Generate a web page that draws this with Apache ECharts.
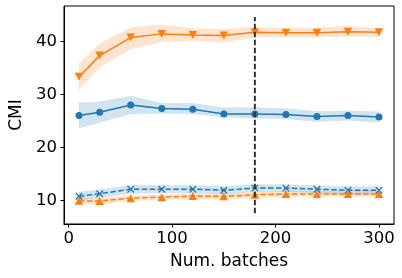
<!DOCTYPE html>
<html><head><meta charset="utf-8">
<script src="https://cdn.jsdelivr.net/npm/echarts@6/dist/echarts.min.js"></script>
<style>html,body{margin:0;padding:0;background:#fff}#c{width:402px;height:278px}</style>
</head><body><div id="c"></div>
<script>
const batches = [10, 30, 60, 90, 120, 150, 180, 210, 240, 270, 300];

const orangeSolidMean  = [33.3, 37.3, 40.7, 41.4, 41.2, 41.1, 41.7, 41.6, 41.6, 41.8, 41.7];
const orangeSolidLower = [30.8, 35.1, 38.5, 39.9, 40.1, 39.8, 40.75, 40.75, 40.75, 40.9, 40.9];
const orangeSolidUpper = [35.8, 39.6, 42.6, 43.1, 42.4, 42.3, 42.6, 42.5, 42.5, 42.9, 42.4];

const blueSolidMean  = [26.0, 26.6, 28.0, 27.3, 27.2, 26.3, 26.3, 26.2, 25.8, 26.0, 25.7];
const blueSolidLower = [23.6, 24.7, 26.3, 26.4, 26.3, 25.7, 25.5, 25.4, 24.8, 25.1, 24.7];
const blueSolidUpper = [28.4, 28.6, 29.7, 28.3, 28.3, 27.5, 27.5, 27.3, 26.8, 26.9, 26.7];

const blueDashMean  = [10.75, 11.25, 12.1, 12.1, 12.1, 11.9, 12.3, 12.3, 12.1, 11.9, 11.9];
const blueDashLower = [10.0, 10.5, 11.3, 11.4, 11.4, 11.2, 11.6, 11.6, 11.4, 11.2, 11.2];
const blueDashUpper = [11.6, 12.0, 12.9, 12.8, 12.8, 12.6, 13.0, 13.0, 12.8, 12.6, 12.6];

const orangeDashMean  = [9.9, 9.85, 10.4, 10.6, 10.8, 10.75, 11.05, 11.2, 11.2, 11.2, 11.2];
const orangeDashLower = [9.3, 9.25, 9.9, 10.1, 10.3, 10.25, 10.55, 10.7, 10.7, 10.7, 10.7];
const orangeDashUpper = [10.5, 10.45, 10.9, 11.1, 11.3, 11.25, 11.55, 11.7, 11.7, 11.7, 11.7];

const vlineX = 180;
const vlineRange = [7.55, 44.6];

const xTicks = [0, 100, 200, 300];
const yTicks = [10, 20, 30, 40];

const BLUE = '#1f77b4', ORANGE = '#ff7f0e';
const FONT = 'DejaVu Sans';

function band(lower, upper, color) {
  return {
    type: 'custom',
    silent: true,
    z: 1,
    data: [[batches[0], lower[0]]],
    renderItem: function (params, api) {
      const pts = [];
      for (let i = 0; i < batches.length; i++) pts.push(api.coord([batches[i], upper[i]]));
      for (let i = batches.length - 1; i >= 0; i--) pts.push(api.coord([batches[i], lower[i]]));
      return { type: 'polygon', shape: { points: pts }, style: { fill: color, opacity: 0.2, stroke: color, lineWidth: 1, strokeOpacity: 0.2 } };
    }
  };
}
function line(mean, color, symbol, size, dashed, extra) {
  return Object.assign({
    type: 'line',
    z: 3,
    data: batches.map((b, i) => [b, mean[i]]),
    symbol: symbol,
    symbolSize: size,
    showSymbol: true,
    lineStyle: { color: color, width: 1.5, type: dashed ? [5.5, 2.4] : 'solid' },
    itemStyle: { color: color },
    animation: false
  }, extra || {});
}

const chart = echarts.init(document.getElementById('c'), null, { renderer: 'canvas' });
chart.setOption({
  animation: false,
  backgroundColor: '#fff',
  grid: { left: 59.5, right: 8, top: 6, bottom: 54, show: true, borderColor: '#000', borderWidth: 1, backgroundColor: 'transparent' },
  xAxis: {
    type: 'value', min: -4.5, max: 314.5,
    name: 'Num. batches', nameLocation: 'middle', nameGap: 29,
    nameTextStyle: { fontFamily: FONT, fontSize: 17, color: '#000' },
    axisLine: { show: true, onZero: false, lineStyle: { color: '#000', width: 1 } },
    axisTick: { show: true, length: 3.5, lineStyle: { color: '#000', width: 1 }, customValues: xTicks },
    axisLabel: { fontFamily: FONT, fontSize: 16.5, color: '#000', margin: 6, customValues: xTicks },
    splitLine: { show: false }
  },
  yAxis: {
    type: 'value', min: 5.53, max: 46.66,
    name: 'CMI', nameLocation: 'middle', nameGap: 39,
    nameTextStyle: { fontFamily: FONT, fontSize: 17, color: '#000' },
    axisLine: { show: true, onZero: false, lineStyle: { color: '#000', width: 1 } },
    axisTick: { show: true, length: 3.5, lineStyle: { color: '#000', width: 1 }, customValues: yTicks },
    axisLabel: { fontFamily: FONT, fontSize: 16.5, color: '#000', margin: 7, customValues: yTicks },
    splitLine: { show: false }
  },
  series: [
    band(orangeSolidLower, orangeSolidUpper, ORANGE),
    band(blueSolidLower, blueSolidUpper, BLUE),
    band(blueDashLower, blueDashUpper, BLUE),
    band(orangeDashLower, orangeDashUpper, ORANGE),
    line(orangeSolidMean, ORANGE, 'path://M0,0 L10,0 L5,9 Z', [8.5, 8], false),
    line(blueSolidMean, BLUE, 'circle', 7, false),
    line(blueDashMean, BLUE, 'path://M0,0 L10,10 M10,0 L0,10', 6.5, true,
      { itemStyle: { color: 'none', borderColor: BLUE, borderWidth: 1.3 } }),
    line(orangeDashMean, ORANGE, 'path://M5,0 L10,9 L0,9 Z', [8.5, 8], true),
    {
      type: 'line', z: 5, symbol: 'none', silent: true,
      data: [[vlineX, vlineRange[0]], [vlineX, vlineRange[1]]],
      lineStyle: { color: '#333', width: 2, type: [5.5, 2.5] }
    }
  ]
});
</script></body></html>
